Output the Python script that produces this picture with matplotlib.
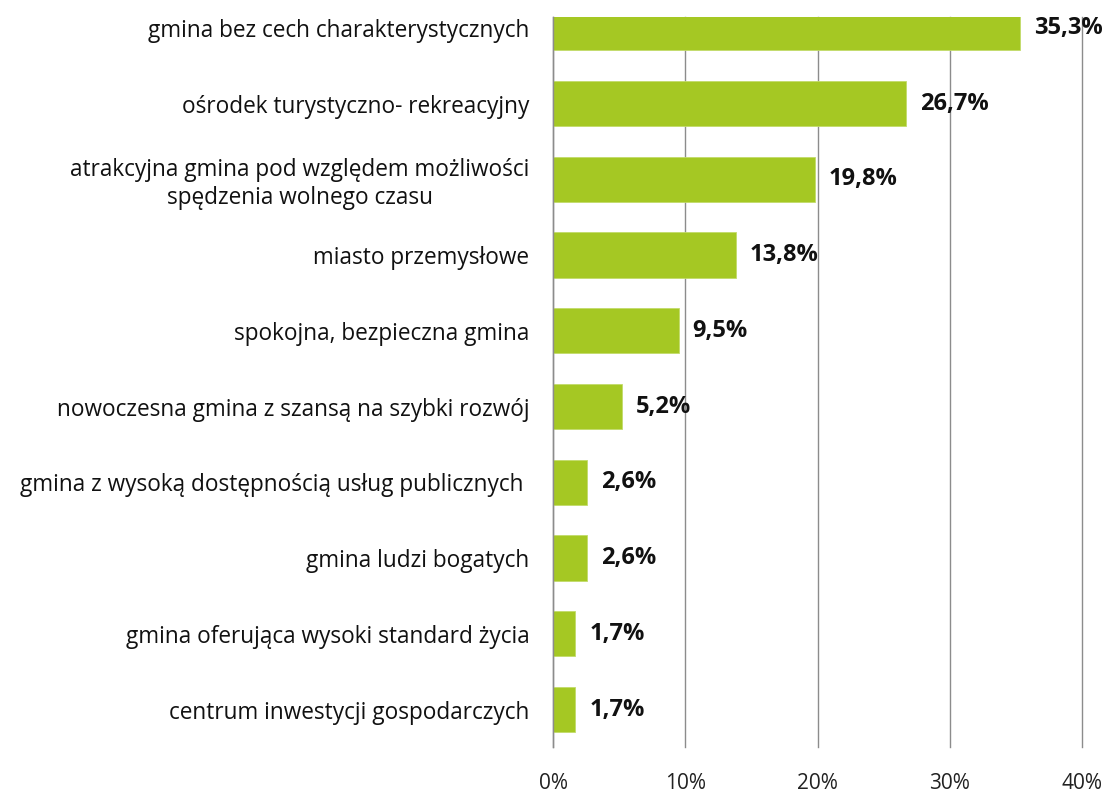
import matplotlib
matplotlib.use("Agg")
import matplotlib.pyplot as plt

categories = [
    "gmina bez cech charakterystycznych",
    "ośrodek turystyczno- rekreacyjny",
    "atrakcyjna gmina pod względem możliwości\nspędzenia wolnego czasu",
    "miasto przemysłowe",
    "spokojna, bezpieczna gmina",
    "nowoczesna gmina z szansą na szybki rozwój",
    "gmina z wysoką dostępnością usług publicznych ",
    "gmina ludzi bogatych",
    "gmina oferująca wysoki standard życia",
    "centrum inwestycji gospodarczych",
]
values = [35.3, 26.7, 19.8, 13.8, 9.5, 5.2, 2.6, 2.6, 1.7, 1.7]
xticks = [0, 10, 20, 30, 40]
xticklabels = ["0%", "10%", "20%", "30%", "40%"]

plt.rcParams['font.family'] = ['Open Sans', 'DejaVu Sans']

W, H = 1107, 790
fig = plt.figure(figsize=(W / 100, H / 100), dpi=100)
left, right, top, bottom = 553, 1082, 17, 747
ax = fig.add_axes([left / W, 1 - bottom / H, (right - left) / W, (bottom - top) / H])

ypos = list(range(len(categories)))
ax.barh(ypos, values, height=0.6, color="#A5C823", edgecolor="#C2DB6A", linewidth=0.6, zorder=3)

ax.set_xlim(0, 40)
ax.set_ylim(9.495, -0.142)
ax.set_xticks(xticks)
ax.set_xticklabels(xticklabels, fontsize=15, color="#222222")
ax.tick_params(axis="x", length=0, pad=19)
ax.set_yticks(ypos)
ax.set_yticklabels(categories, fontsize=16.3, color="#111111", multialignment="center")
ax.tick_params(axis="y", length=0, pad=17)

ax.grid(axis="x", color="#8C8C8C", linewidth=1, zorder=0)
for gl in ax.get_xgridlines():
    gl.set_clip_on(False)
for s in ["top", "right", "bottom"]:
    ax.spines[s].set_visible(False)
ax.spines["left"].set_color("#8C8C8C")
ax.spines["left"].set_linewidth(1)
ax.spines["left"].set_zorder(4)

for y, v in zip(ypos, values):
    ax.annotate(f"{v:.1f}%".replace(".", ","), xy=(v, y), xytext=(10, 0),
                textcoords="offset points", va="center", ha="left",
                fontsize=17, fontweight="bold", color="#111111",
                annotation_clip=False, zorder=5)

fig.savefig("out.png", dpi=100)
